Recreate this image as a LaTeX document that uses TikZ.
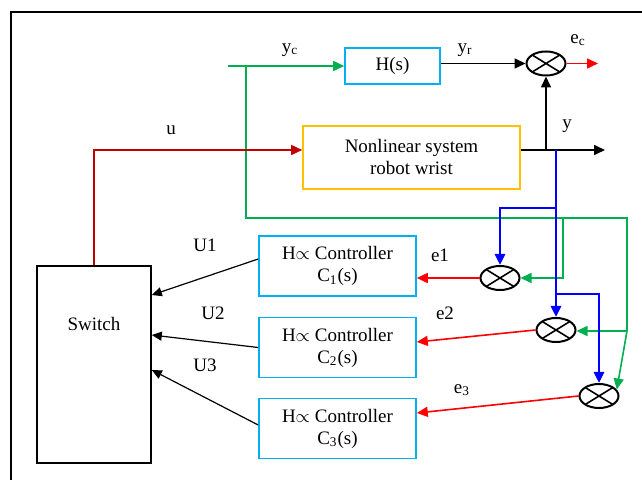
\documentclass[tikz,border=0pt]{standalone}
\usepackage{fontspec}
\setmainfont{Liberation Serif}
\usetikzlibrary{positioning, arrows.meta, shapes.geometric}
\definecolor{grn}{HTML}{00B050}
\definecolor{cyb}{HTML}{00B0F0}
\definecolor{ylw}{HTML}{FFC000}
\definecolor{dred}{HTML}{C00000}
\newcommand{\lblfont}{\fontsize{9.5}{11}\selectfont}
\tikzset{blk/.style={draw, thick, align=center, font=\lblfont, inner sep=0pt},
ctrl/.style={blk, draw=cyb, minimum width=78.5pt, minimum height=30pt},
sumj/.style={draw, ellipse, line width=1pt, minimum width=19.5pt, minimum height=12pt, inner sep=0pt,
  path picture={\draw[thick] (path picture bounding box.north west) -- (path picture bounding box.south east)
  (path picture bounding box.south west) -- (path picture bounding box.north east);}},
lbl/.style={font=\lblfont, inner sep=0pt},
flow/.style={-{Triangle[length=5.5pt,width=5pt]}, thick},
uflow/.style={-{Triangle[length=5pt,width=4.5pt]}, semithick},
gpath/.style={thick, grn},
gflow/.style={flow, grn},
rflow/.style={flow, dred},
eflow/.style={flow, red},
bflow/.style={-{Triangle[length=5.5pt,width=5pt]}, line width=1.3pt, blue}}
\begin{document}
\begin{tikzpicture}[x=0.5pt, y=-0.5pt]
  \useasboundingbox (0,0) rectangle (642,480);
  \draw[thick] (11,480) -- (11,12) -- (642,12);
  \node[blk, draw=cyb, minimum width=47.5pt, minimum height=18pt] (h) at (392.5,66) {H(s)};
  \node[blk, draw=ylw, minimum width=108.5pt, minimum height=31.5pt] (sys) at (411.5,157.5) {Nonlinear system\\robot wrist};
  \node[blk, minimum width=57pt, minimum height=98.5pt] (sw) at (94,364.5) {};
  \node[lbl] (swl) at (94,324) {Switch};
  \foreach \i/\y in {1/266,2/347.5,3/428.5}
    \node[ctrl] (c\i) at (337.5,\y) {H$\propto$ Controller\\C\textsubscript{\i}(s)};
  \node[sumj] (s0) at (546,63.5) {};
  \node[sumj] (s1) at (500,278) {};
  \node[sumj] (s2) at (556,330) {};
  \node[sumj] (s3) at (599,396) {};
  \coordinate (yc) at (228,66);
  \coordinate (gb) at (246,66);
  \coordinate (g1) at (627,218);
  \coordinate (g2) at (627,331);
  \coordinate (g3) at (563,218);
  \coordinate (yo) at (605,150);
  \coordinate (yb) at (546,150);
  \coordinate (b0) at (556,150);
  \coordinate (b1) at (556,208);
  \coordinate (b2) at (556,294);
  \coordinate (ec) at (598,63.5);
  \draw[gflow] (yc) -- (h.west);
  \draw[gpath] (gb) |- (g1) -- (g2);
  \draw[gflow] (g3) |- (s1.east);
  \draw[gflow] (g2) -- (g2 -| s2.east);
  \draw[gflow] (g2) -- (s3.20);
  \draw[rflow] (sw.north) |- ([yshift=3.75pt]sys.west);
  \draw[flow] ([yshift=3.75pt]sys.east) -- (yo);
  \draw[flow] (yb) -- (s0.south);
  \draw[flow] (h.east |- s0) -- (s0.west);
  \draw[eflow] (s0.east) -- (ec);
  \draw[bflow] (b0) -- (s2.north);
  \draw[bflow] (b1) -| (s1.north);
  \draw[bflow] (b2) -| (s3.north);
  \draw[eflow] (s1.west) -- (s1.west -| c1.east);
  \draw[eflow] (s2.west) -- ([yshift=2.75pt]c2.east);
  \draw[eflow] (s3.west) -- ([yshift=7.75pt]c3.east);
  \draw[uflow] ([yshift=3.5pt]c1.west) -- ([yshift=34.75pt]sw.east);
  \draw[uflow] (c2.west) -- ([yshift=14.75pt]sw.east);
  \draw[uflow] ([yshift=1.75pt]c3.west) -- ([yshift=-2.75pt]sw.east);
  \node[lbl] (lyc) at (290,50) {y\textsubscript{c}};
  \node[lbl] (lyr) at (465,50) {y\textsubscript{r}};
  \node[lbl] (lec) at (578,40) {e\textsubscript{c}};
  \node[lbl] (ly) at (567,126) {y};
  \node[lbl] (lu) at (171,130) {u};
  \node[lbl] (lu1) at (205,245) {U1};
  \node[lbl] (lu2) at (213,313) {U2};
  \node[lbl] (lu3) at (205,365) {U3};
  \node[lbl] (le1) at (440,255) {e1};
  \node[lbl] (le2) at (445,313) {e2};
  \node[lbl] (le3) at (462,390) {e\textsubscript{3}};
\end{tikzpicture}
\end{document}
